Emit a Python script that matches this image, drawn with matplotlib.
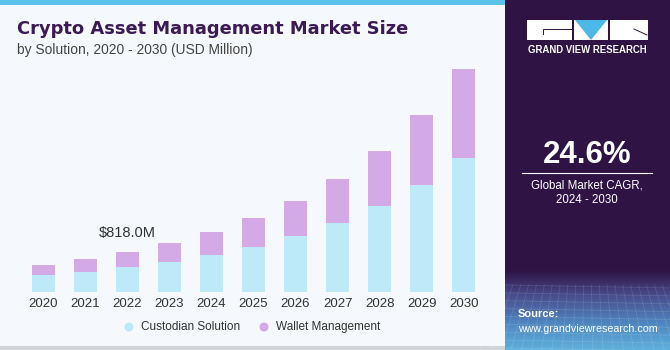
import numpy as np
import matplotlib.pyplot as plt
from matplotlib.patches import Rectangle, Polygon, Circle
from matplotlib.colors import LinearSegmentedColormap

# --- data (USD Million) ---
years = ['2020', '2021', '2022', '2023', '2024', '2025', '2026', '2027', '2028', '2029', '2030']
custodian = [342, 415, 505, 620, 757, 926, 1145, 1417, 1759, 2194, 2746]
wallet = [210, 254, 313, 376, 464, 581, 716, 900, 1131, 1426, 1808]
series_names = ['Custodian Solution', 'Wallet Management']
highlight_label = '$818.0M'
cagr = '24.6%'

plt.rcParams['font.family'] = ['Liberation Sans', 'DejaVu Sans']

W, H = 670, 350
BG = '#f5f8fc'
PURPLE = '#2f1344'
C_CUST = '#bde9f9'
C_WALL = '#d3a9e6'

fig = plt.figure(figsize=(W / 100, H / 100), dpi=100)
fig.patch.set_facecolor(BG)

# overlay axes in pixel coords for decorations
deco = fig.add_axes([0, 0, 1, 1])
deco.set_xlim(0, W)
deco.set_ylim(H, 0)
deco.axis('off')

# top accent line and bottom border
deco.add_patch(Rectangle((0, 0), 505, 5, color='#5bc3ea', lw=0))
deco.add_patch(Rectangle((0, 346), 505, 4, color='#d0d3d8', lw=0))

# right panel with gradient near the bottom
deco.add_patch(Rectangle((505, 0), 165, 350, color=PURPLE, lw=0))
grad = np.linspace(0, 1, 100).reshape(-1, 1)
cmap = LinearSegmentedColormap.from_list('pg', [PURPLE, '#4a4f8f', '#4f86c0', '#5fb0dc'])
deco.imshow(grad, extent=(505, 670, 350, 270), cmap=cmap, aspect='auto', zorder=1)
# faint grid texture
for gy in np.linspace(285, 348, 9):
    deco.plot([505, 670], [gy, gy + 3], color='white', alpha=0.12, lw=0.6, zorder=2)
for gx in np.linspace(505, 670, 22):
    deco.plot([gx, gx + (gx - 587) * 0.3], [285, 350], color='white', alpha=0.12, lw=0.6, zorder=2)

# logo
deco.add_patch(Rectangle((527, 20), 45, 20, color='white', lw=0, zorder=3))
deco.plot([543, 543, 571], [34, 29, 29], color=PURPLE, lw=0.7, zorder=4)
deco.add_patch(Rectangle((574, 20), 34, 20, color='white', lw=0, zorder=3))
deco.add_patch(Polygon([(575, 20), (607, 20), (591, 40)], closed=True, color='#4cb8e8', lw=0, zorder=4))
deco.add_patch(Rectangle((610, 20), 38, 20, color='white', lw=0, zorder=3))
deco.plot([634, 647], [29, 35], color=PURPLE, lw=0.7, zorder=4)
deco.text(587.5, 50, 'GRAND VIEW RESEARCH', color='white', fontsize=6.9, fontweight='bold',
          ha='center', va='center', zorder=5)

deco.text(587, 155, cagr, color='white', fontsize=22.5, fontweight='bold', ha='center', va='center', zorder=5)
deco.plot([522, 652], [173, 173], color='white', lw=0.8, zorder=5)
deco.text(587, 185, 'Global Market CAGR,', color='white', fontsize=8.3, ha='center', va='center', zorder=5)
deco.text(587, 200, '2024 - 2030', color='white', fontsize=8.3, ha='center', va='center', zorder=5)
deco.text(518, 314, 'Source:', color='white', fontsize=8, fontweight='bold', ha='left', va='center', zorder=5)
deco.text(518, 329, 'www.grandviewresearch.com', color='white', fontsize=7.7, ha='left', va='center', zorder=5)

# titles
deco.text(17, 29, 'Crypto Asset Management Market Size', color='#3b1a55', fontsize=12.9,
          fontweight='bold', family='DejaVu Sans', ha='left', va='center')
deco.text(17, 50, 'by Solution, 2020 - 2030 (USD Million)', color='#444444', fontsize=9.9,
          ha='left', va='center')

# legend
deco.add_patch(Circle((129, 327), 4.5, color=C_CUST, lw=0))
deco.text(141, 327, series_names[0], fontsize=8.5, color='#333333', ha='left', va='center')
deco.add_patch(Circle((264, 327), 4.5, color=C_WALL, lw=0))
deco.text(276, 327, series_names[1], fontsize=8.5, color='#333333', ha='left', va='center')

# bar axes
px_per_m = 40 / 818.0
ax_left, ax_right, ax_bottom, ax_top = 22.2, 484.75, 292, 60
ax = fig.add_axes([ax_left / W, 1 - ax_bottom / H, (ax_right - ax_left) / W, (ax_bottom - ax_top) / H])
ax.set_facecolor('none')
x = np.arange(len(years))
ax.bar(x, custodian, width=0.55, color=C_CUST, lw=0)
ax.bar(x, wallet, bottom=custodian, width=0.55, color=C_WALL, lw=0)
ax.set_xlim(-0.5, 10.5)
ax.set_ylim(0, (ax_bottom - ax_top) / px_per_m)
ax.set_xticks(x)
ax.set_xticklabels(years, fontsize=9.5, color='#333333')
ax.tick_params(axis='x', length=0, pad=4)
ax.set_yticks([])
for s in ax.spines.values():
    s.set_visible(False)

i22 = years.index('2022')
ax.annotate(highlight_label, (x[i22], custodian[i22] + wallet[i22]), xytext=(0, 14),
            textcoords='offset points', ha='center', va='center', fontsize=10.5, color='#333333')

fig.savefig('out.png', dpi=100, facecolor=fig.get_facecolor())
